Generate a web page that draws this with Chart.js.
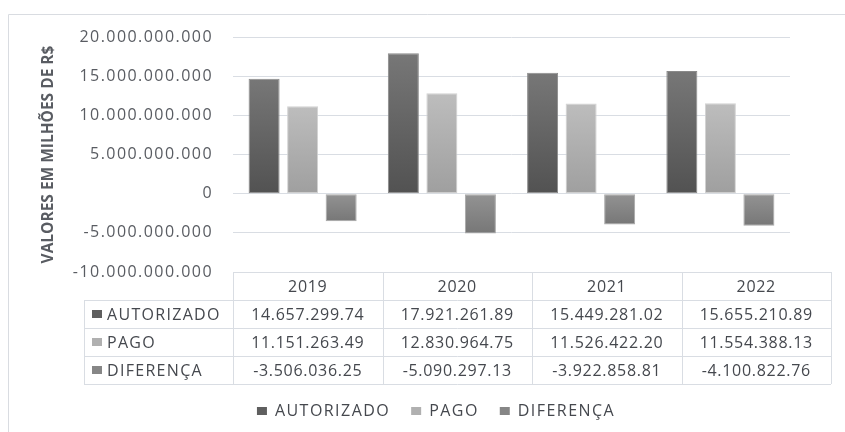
<!DOCTYPE html>
<html><head><meta charset="utf-8">
<script src="https://cdn.jsdelivr.net/npm/chart.js@4"></script>
<style>html,body{margin:0;padding:0;background:#fff}</style>
</head><body>
<canvas id="c" width="845" height="432"></canvas>
<script>
// ---- data (values as printed in the table; axis is in units x1000) ----
const years = ['2019', '2020', '2021', '2022'];
const seriesNames = ['AUTORIZADO', 'PAGO', 'DIFERENÇA'];
const autorizado = [14657299.74, 17921261.89, 15449281.02, 15655210.89];
const pago = [11151263.49, 12830964.75, 11526422.20, 11554388.13];
const diferenca = [-3506036.25, -5090297.13, -3922858.81, -4100822.76];
const yTickValues = [-10000000000, -5000000000, 0, 5000000000, 10000000000, 15000000000, 20000000000];
const axisTitle = 'VALORES EM MILHÕES DE R$';
const UNIT = 1000;

const GRID = '#d9dde3';
const TEXT = '#45484e';
const TICK = '#595c62';
const FONT = '"Open Sans", "DejaVu Sans", sans-serif';
const styles = [
  {top: '#777777', bottom: '#525252', mid: '#5f5f5f', border: '#8a8a8a'},
  {top: '#bdbdbd', bottom: '#9f9f9f', mid: '#b0b0b0', border: '#d2d2d2'},
  {top: '#939393', bottom: '#777777', mid: '#868686', border: '#a8a8a8'}
];

function grouped(intStr) {
  return intStr.replace(/\B(?=(\d{3})+(?!\d))/g, '.');
}
function fmtTable(v) {
  const neg = v < 0;
  const [i, d] = Math.abs(v).toFixed(2).split('.');
  return (neg ? '-' : '') + grouped(i) + '.' + d;
}
function fmtTick(v) {
  const neg = v < 0;
  return (neg ? '-' : '') + grouped(String(Math.round(Math.abs(v))));
}
function gradient(st) {
  return (c) => {
    const chart = c.chart;
    if (c.type !== 'data' || !chart.chartArea || !chart.scales.y) return st.mid;
    const y = chart.scales.y;
    const p0 = y.getPixelForValue(0), p1 = y.getPixelForValue(c.parsed.y);
    const a = Math.min(p0, p1), b = Math.max(p0, p1);
    if (!(b > a)) return st.mid;
    const g = chart.ctx.createLinearGradient(0, a, 0, b);
    g.addColorStop(0, st.top);
    g.addColorStop(1, st.bottom);
    return g;
  };
}

const seriesValues = [autorizado, pago, diferenca];
const datasets = seriesNames.map((name, k) => ({
  label: name,
  data: seriesValues[k].map(v => v * UNIT),
  backgroundColor: gradient(styles[k]),
  borderColor: styles[k].border,
  borderWidth: 1,
  borderSkipped: false,
  categoryPercentage: 0.83,
  barPercentage: 0.805
}));

const SPACING = '1.45px';
const decor = {
  id: 'decor',
  beforeLayout(chart) { chart.ctx.letterSpacing = SPACING; },
  afterLayout(chart) {
    const ys = chart.scales.y;
    if (ys && !ys._wrappedTitle) {
      const orig = ys.drawTitle;
      ys.drawTitle = function () {
        const ctx = this.ctx; const prev = ctx.letterSpacing;
        ctx.letterSpacing = '0px'; orig.call(this); ctx.letterSpacing = prev;
      };
      // let the long tick labels extend past the axis box (no clipping)
      ys._computeLabelArea = function () { return undefined; };
      ys._wrappedTitle = true;
    }
  },
  beforeDraw(chart) {
    const ctx = chart.ctx;
    ctx.letterSpacing = SPACING;
    ctx.save();
    ctx.strokeStyle = '#d9dce1';
    ctx.lineWidth = 1;
    ctx.beginPath();
    ctx.moveTo(8.5, 433); ctx.lineTo(8.5, 14.5); ctx.lineTo(846, 14.5);
    ctx.stroke();
    ctx.restore();
  },
  afterDraw(chart) {
    const {ctx, chartArea} = chart;
    const left = chartArea.left, top = chartArea.bottom;
    const colW = 149.5, rowH = 28, labelLeft = 84;
    const right = left + colW * years.length;
    const nRows = seriesNames.length;
    ctx.save();
    ctx.strokeStyle = GRID; ctx.lineWidth = 1;
    const line = (x1, y1, x2, y2) => { ctx.beginPath(); ctx.moveTo(x1, y1); ctx.lineTo(x2, y2); ctx.stroke(); };
    line(left, Math.round(top) + 0.5, right, Math.round(top) + 0.5);
    for (let r = 1; r <= nRows + 1; r++) {
      const y = Math.round(top + r * rowH) + 0.5;
      line(labelLeft, y, right, y);
    }
    line(labelLeft + 0.5, top + rowH, labelLeft + 0.5, top + (nRows + 1) * rowH);
    for (let c = 0; c <= years.length; c++) {
      const x = Math.round(left + c * colW) + 0.5;
      line(x, top, x, top + (nRows + 1) * rowH);
    }
    ctx.fillStyle = TEXT;
    ctx.textBaseline = 'middle';
    ctx.textAlign = 'center';
    ctx.font = '16px ' + FONT;
    ctx.letterSpacing = '0.7px';
    years.forEach((yr, i) => ctx.fillText(yr, left + colW * (i + 0.5), top + rowH / 2 + 1));
    seriesValues.forEach((vals, r) => {
      vals.forEach((v, i) => ctx.fillText(fmtTable(v), left + colW * (i + 0.5), top + rowH * (r + 1.5) + 1));
    });
    ctx.textAlign = 'left';
    ctx.letterSpacing = '1.3px';
    seriesNames.forEach((name, r) => {
      const yc = top + rowH * (r + 1.5);
      ctx.fillStyle = styles[r].mid;
      ctx.fillRect(92, Math.round(yc) - 4, 10, 8);
      ctx.fillStyle = TEXT;
      ctx.fillText(name, 107, yc + 1);
    });
    ctx.restore();
    ctx.letterSpacing = SPACING;
  }
};

new Chart(document.getElementById('c'), {
  type: 'bar',
  data: {labels: years, datasets},
  options: {
    responsive: false,
    devicePixelRatio: 1,
    animation: false,
    layout: {padding: {left: 82, right: 55, top: 37, bottom: 3}},
    scales: {
      x: {
        grid: {display: false},
        border: {display: false},
        ticks: {display: false},
        afterFit(s) { s.height = 110; }
      },
      y: {
        min: yTickValues[0],
        max: yTickValues[yTickValues.length - 1],
        afterBuildTicks(s) { s.ticks = yTickValues.map(v => ({value: v})); },
        afterFit(s) { s.width = 151; },
        grid: {color: GRID, lineWidth: 1, drawTicks: false},
        border: {display: false},
        ticks: {
          padding: 20,
          color: TICK,
          font: {family: FONT, size: 16},
          callback: (v) => fmtTick(v)
        },
        title: {
          display: true,
          text: axisTitle,
          color: '#595c62',
          font: {family: FONT, size: 15.5, weight: 'bold'},
          padding: {top: -42.3, bottom: 0}
        }
      }
    },
    plugins: {
      tooltip: {enabled: false},
      legend: {
        position: 'bottom',
        labels: {
          boxWidth: 10,
          boxHeight: 8,
          padding: 21,
          color: TEXT,
          font: {family: FONT, size: 16},
          generateLabels(chart) {
            return chart.data.datasets.map((ds, i) => ({
              text: ds.label, fillStyle: styles[i].mid, strokeStyle: styles[i].mid,
              lineWidth: 0, hidden: false, datasetIndex: i, fontColor: TEXT
            }));
          }
        }
      }
    }
  },
  plugins: [decor]
});
</script>
</body></html>
